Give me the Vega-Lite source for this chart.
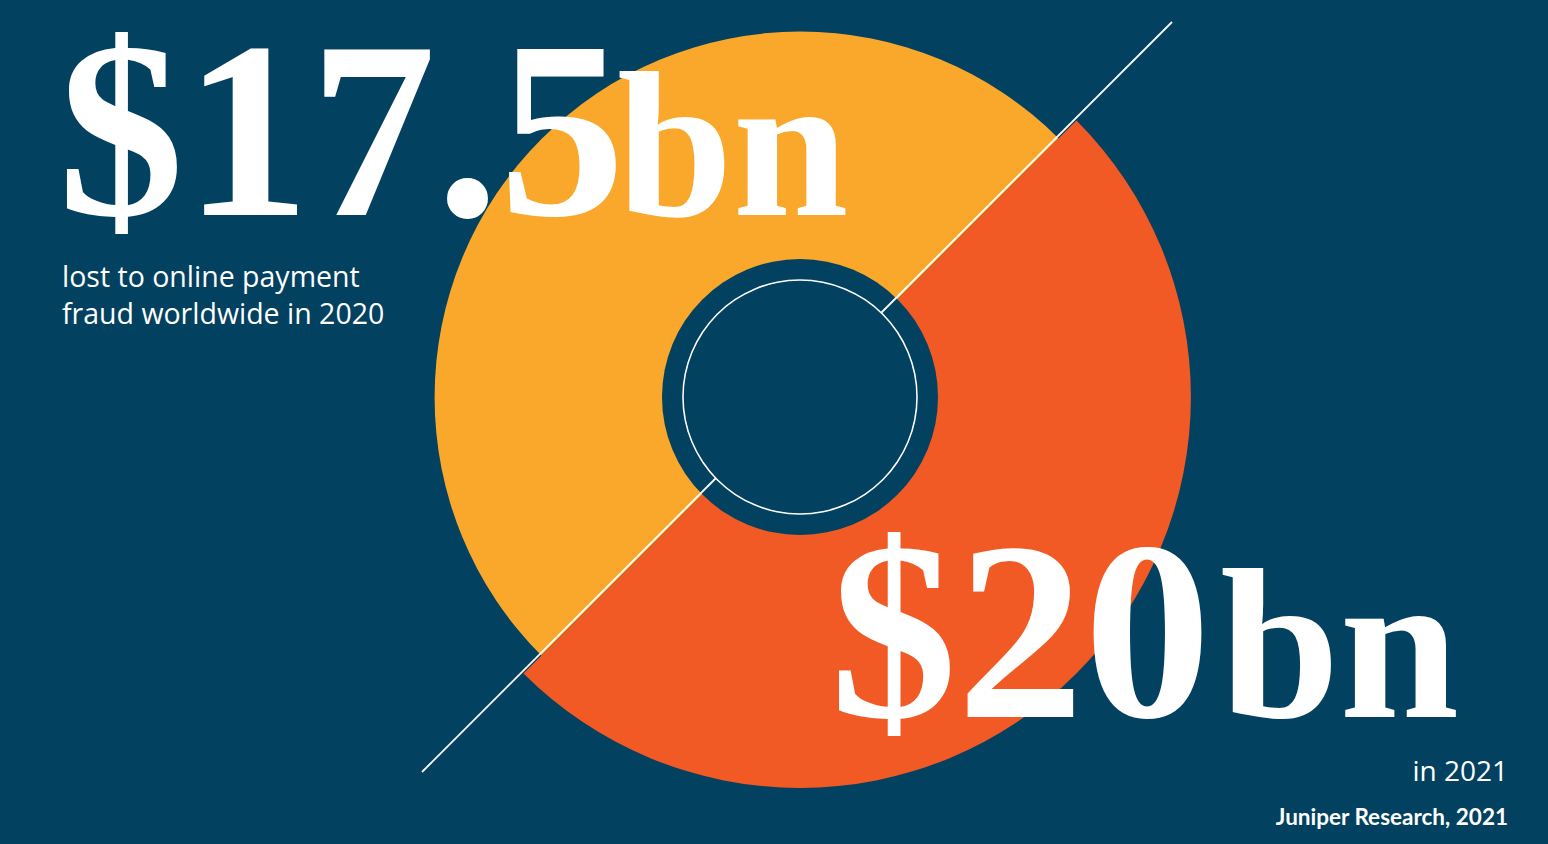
{
  "$schema": "https://vega.github.io/schema/vega-lite/v6.json",
  "width": 1548,
  "height": 844,
  "autosize": {"type": "fit", "contains": "padding"},
  "padding": 0,
  "background": "#02415f",
  "config": {"view": {"stroke": null}},
  "data": {
    "values": [
      {"year": 2020, "value": 17.5, "amount": "$17.5", "unit": "bn", "caption": "lost to online payment\nfraud worldwide in 2020"},
      {"year": 2021, "value": 20, "amount": "$20", "unit": "bn", "caption": "in 2021", "source": "Juniper Research, 2021"}
    ]
  },
  "layer": [
    {
      "transform": [{"filter": "datum.year == 2020"}],
      "mark": {"type": "arc", "theta": 3.92699, "theta2": 7.06858},
      "encoding": {
        "x": {"datum": 800, "type": "quantitative", "scale": {"domain": [0, 1548], "nice": false, "zero": false}, "axis": null},
        "y": {"datum": 397, "type": "quantitative", "scale": {"domain": [0, 844], "nice": false, "zero": false, "reverse": true}, "axis": null},
        "radius": {"field": "value", "type": "quantitative", "scale": {"type": "sqrt", "zero": true, "domain": [0, 20], "range": [0, 391]}},
        "color": {"field": "year", "type": "nominal", "scale": {"domain": [2020, 2021], "range": ["#F9A82B", "#F15A24"]}, "legend": null}
      }
    },
    {
      "transform": [{"filter": "datum.year == 2021"}],
      "mark": {"type": "arc", "theta": 0.7854, "theta2": 3.92699},
      "encoding": {
        "x": {"datum": 800, "type": "quantitative"},
        "y": {"datum": 397, "type": "quantitative"},
        "radius": {"field": "value", "type": "quantitative"},
        "color": {"field": "year", "type": "nominal", "legend": null}
      }
    },
    {
      "transform": [{"filter": "datum.year == 2021"}],
      "mark": {"type": "arc", "innerRadius": 0, "outerRadius": 138, "theta": 0, "theta2": 6.2832, "color": "#02415f"},
      "encoding": {
        "x": {"datum": 800, "type": "quantitative"},
        "y": {"datum": 397, "type": "quantitative"}
      }
    },
    {
      "transform": [{"filter": "datum.year == 2021"}],
      "mark": {"type": "arc", "innerRadius": 116.2, "outerRadius": 117.8, "theta": 0, "theta2": 6.2832, "color": "#ffffff"},
      "encoding": {
        "x": {"datum": 800, "type": "quantitative"},
        "y": {"datum": 397, "type": "quantitative"}
      }
    },
    {
      "transform": [{"filter": "datum.year == 2021"}],
      "mark": {"type": "rule", "color": "#ffffff", "strokeWidth": 1.8},
      "encoding": {
        "x": {"datum": 1172, "type": "quantitative"},
        "y": {"datum": 22, "type": "quantitative"},
        "x2": {"datum": 881.5},
        "y2": {"datum": 312.5}
      }
    },
    {
      "transform": [{"filter": "datum.year == 2021"}],
      "mark": {"type": "rule", "color": "#ffffff", "strokeWidth": 1.8},
      "encoding": {
        "x": {"datum": 715.5, "type": "quantitative"},
        "y": {"datum": 478.5, "type": "quantitative"},
        "x2": {"datum": 422},
        "y2": {"datum": 772}
      }
    },
    {
      "transform": [{"filter": "datum.year == 2020"}],
      "mark": {"type": "text", "align": "left", "baseline": "alphabetic", "font": "Liberation Serif", "fontWeight": "bold", "fontSize": 252, "color": "#ffffff"},
      "encoding": {
        "x": {"datum": 58, "type": "quantitative"},
        "y": {"datum": 215, "type": "quantitative"},
        "text": {"field": "amount"}
      }
    },
    {
      "transform": [{"filter": "datum.year == 2020"}],
      "mark": {"type": "text", "align": "left", "baseline": "alphabetic", "font": "Liberation Serif", "fontWeight": "bold", "fontSize": 208, "color": "#ffffff"},
      "encoding": {
        "x": {"datum": 617, "type": "quantitative"},
        "y": {"datum": 215, "type": "quantitative"},
        "text": {"field": "unit"}
      }
    },
    {
      "transform": [{"filter": "datum.year == 2021"}],
      "mark": {"type": "text", "align": "left", "baseline": "alphabetic", "font": "Liberation Serif", "fontWeight": "bold", "fontSize": 254, "color": "#ffffff"},
      "encoding": {
        "x": {"datum": 830, "type": "quantitative"},
        "y": {"datum": 717, "type": "quantitative"},
        "text": {"field": "amount"}
      }
    },
    {
      "transform": [{"filter": "datum.year == 2021"}],
      "mark": {"type": "text", "align": "left", "baseline": "alphabetic", "font": "Liberation Serif", "fontWeight": "bold", "fontSize": 215, "color": "#ffffff"},
      "encoding": {
        "x": {"datum": 1220, "type": "quantitative"},
        "y": {"datum": 717, "type": "quantitative"},
        "text": {"field": "unit"}
      }
    },
    {
      "transform": [{"filter": "datum.year == 2020"}],
      "mark": {"type": "text", "align": "left", "baseline": "alphabetic", "font": "Open Sans", "fontSize": 28.5, "lineBreak": "\n", "lineHeight": 37, "color": "#ffffff"},
      "encoding": {
        "x": {"datum": 62, "type": "quantitative"},
        "y": {"datum": 287, "type": "quantitative"},
        "text": {"field": "caption"}
      }
    },
    {
      "transform": [{"filter": "datum.year == 2021"}],
      "mark": {"type": "text", "align": "right", "baseline": "alphabetic", "font": "Open Sans", "fontSize": 28, "color": "#ffffff"},
      "encoding": {
        "x": {"datum": 1508, "type": "quantitative"},
        "y": {"datum": 781, "type": "quantitative"},
        "text": {"field": "caption"}
      }
    },
    {
      "transform": [{"filter": "datum.year == 2021"}],
      "mark": {"type": "text", "align": "right", "baseline": "alphabetic", "font": "Lato", "fontWeight": "bold", "fontSize": 22.5, "color": "#ffffff"},
      "encoding": {
        "x": {"datum": 1508, "type": "quantitative"},
        "y": {"datum": 825, "type": "quantitative"},
        "text": {"field": "source"}
      }
    }
  ]
}
